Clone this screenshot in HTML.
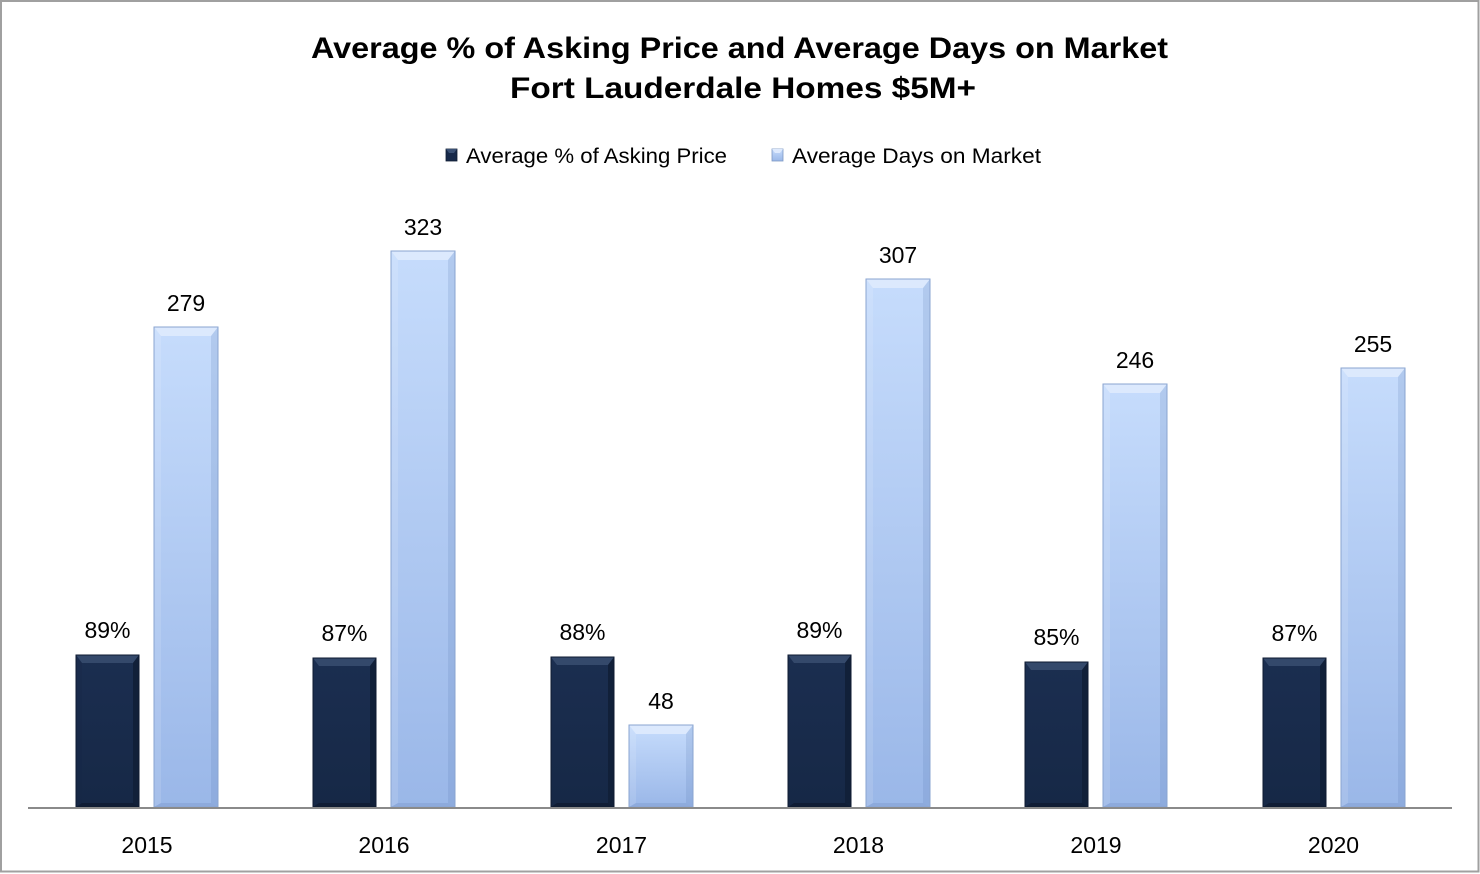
<!DOCTYPE html>
<html>
<head>
<meta charset="utf-8">
<style>
  html, body { margin: 0; padding: 0; background: #ffffff; }
  svg { display: block; }
  text { font-family: "Liberation Sans", Arial, sans-serif; fill: #000; }
</style>
</head>
<body>
<svg width="1480" height="874" viewBox="0 0 1480 874" xmlns="http://www.w3.org/2000/svg">
  <defs>
    <linearGradient id="lg" x1="0" y1="0" x2="0" y2="1">
      <stop offset="0" stop-color="#c6dcfc"/>
      <stop offset="1" stop-color="#9ab7e8"/>
    </linearGradient>
    <linearGradient id="dg" x1="0" y1="0" x2="0" y2="1">
      <stop offset="0" stop-color="#1b2e50"/>
      <stop offset="1" stop-color="#162846"/>
    </linearGradient>
  </defs>

  <rect x="0" y="0" width="1480" height="874" fill="#fff"/>
  <rect x="1" y="1" width="1477.5" height="870.5" fill="none" stroke="#a0a0a0" stroke-width="2"/>

  <!-- Title -->
  <text x="311" y="58" font-size="29.5" font-weight="bold" textLength="857" lengthAdjust="spacingAndGlyphs">Average % of Asking Price and Average Days on Market</text>
  <text x="510" y="98" font-size="29.5" font-weight="bold" textLength="466" lengthAdjust="spacingAndGlyphs">Fort Lauderdale Homes $5M+</text>

  <!-- Legend -->
  <g>
    <rect x="446" y="149" width="11" height="12" fill="#17294a" stroke="#0f1c33" stroke-width="0.8"/>
    <polygon points="446,149 457,149 454,153 449,153" fill="#3a5074"/>
    <text x="466" y="163" font-size="21" textLength="261" lengthAdjust="spacingAndGlyphs">Average % of Asking Price</text>
    <rect x="772" y="149" width="11" height="12" fill="url(#lg)" stroke="#7e98c4" stroke-width="0.8"/>
    <polygon points="772,149 783,149 780,153 775,153" fill="#dde9fd"/>
    <text x="792" y="163" font-size="21" textLength="249" lengthAdjust="spacingAndGlyphs">Average Days on Market</text>
  </g>

  <!-- Bars -->
  <g id="bars">
    <!-- 2015 -->
    <rect x="76" y="655" width="63" height="152" fill="url(#dg)"/>
    <polygon points="76,655 139,655 133,663 82,663" fill="#34496b"/>
    <polygon points="76,655 82,663 82,803 76,807" fill="#15264438"/>
    <polygon points="139,655 133,663 133,803 139,807" fill="#112039"/>
    <polygon points="76,807 82,803 133,803 139,807" fill="#101d35"/>
    <rect x="76" y="655" width="63" height="152" fill="none" stroke="#0e1a30" stroke-width="1"/>

    <rect x="154" y="327" width="64" height="480" fill="url(#lg)"/>
    <polygon points="154,327 218,327 211,336 161,336" fill="#dce9fd"/>
    <polygon points="154,327 161,336 161,803 154,807" fill="#ffffff" fill-opacity="0.12"/>
    <polygon points="218,327 211,336 211,803 218,807" fill="#5a7ab0" fill-opacity="0.18"/>
    <polygon points="154,807 161,803 211,803 218,807" fill="#5a7ab0" fill-opacity="0.2"/>
    <rect x="154" y="327" width="64" height="480" fill="none" stroke="#8aa4d0" stroke-width="1"/>

    <!-- 2016 -->
    <rect x="313" y="658" width="63" height="149" fill="url(#dg)"/>
    <polygon points="313,658 376,658 370,666 319,666" fill="#34496b"/>
    <polygon points="376,658 370,666 370,803 376,807" fill="#112039"/>
    <polygon points="313,807 319,803 370,803 376,807" fill="#101d35"/>
    <rect x="313" y="658" width="63" height="149" fill="none" stroke="#0e1a30" stroke-width="1"/>

    <rect x="391" y="251" width="64" height="556" fill="url(#lg)"/>
    <polygon points="391,251 455,251 448,260 398,260" fill="#dce9fd"/>
    <polygon points="391,251 398,260 398,803 391,807" fill="#ffffff" fill-opacity="0.12"/>
    <polygon points="455,251 448,260 448,803 455,807" fill="#5a7ab0" fill-opacity="0.18"/>
    <polygon points="391,807 398,803 448,803 455,807" fill="#5a7ab0" fill-opacity="0.2"/>
    <rect x="391" y="251" width="64" height="556" fill="none" stroke="#8aa4d0" stroke-width="1"/>

    <!-- 2017 -->
    <rect x="551" y="657" width="63" height="150" fill="url(#dg)"/>
    <polygon points="551,657 614,657 608,665 557,665" fill="#34496b"/>
    <polygon points="614,657 608,665 608,803 614,807" fill="#112039"/>
    <polygon points="551,807 557,803 608,803 614,807" fill="#101d35"/>
    <rect x="551" y="657" width="63" height="150" fill="none" stroke="#0e1a30" stroke-width="1"/>

    <rect x="629" y="725" width="64" height="82" fill="url(#lg)"/>
    <polygon points="629,725 693,725 686,734 636,734" fill="#dce9fd"/>
    <polygon points="629,725 636,734 636,803 629,807" fill="#ffffff" fill-opacity="0.12"/>
    <polygon points="693,725 686,734 686,803 693,807" fill="#5a7ab0" fill-opacity="0.18"/>
    <polygon points="629,807 636,803 686,803 693,807" fill="#5a7ab0" fill-opacity="0.2"/>
    <rect x="629" y="725" width="64" height="82" fill="none" stroke="#8aa4d0" stroke-width="1"/>

    <!-- 2018 -->
    <rect x="788" y="655" width="63" height="152" fill="url(#dg)"/>
    <polygon points="788,655 851,655 845,663 794,663" fill="#34496b"/>
    <polygon points="851,655 845,663 845,803 851,807" fill="#112039"/>
    <polygon points="788,807 794,803 845,803 851,807" fill="#101d35"/>
    <rect x="788" y="655" width="63" height="152" fill="none" stroke="#0e1a30" stroke-width="1"/>

    <rect x="866" y="279" width="64" height="528" fill="url(#lg)"/>
    <polygon points="866,279 930,279 923,288 873,288" fill="#dce9fd"/>
    <polygon points="866,279 873,288 873,803 866,807" fill="#ffffff" fill-opacity="0.12"/>
    <polygon points="930,279 923,288 923,803 930,807" fill="#5a7ab0" fill-opacity="0.18"/>
    <polygon points="866,807 873,803 923,803 930,807" fill="#5a7ab0" fill-opacity="0.2"/>
    <rect x="866" y="279" width="64" height="528" fill="none" stroke="#8aa4d0" stroke-width="1"/>

    <!-- 2019 -->
    <rect x="1025" y="662" width="63" height="145" fill="url(#dg)"/>
    <polygon points="1025,662 1088,662 1082,670 1031,670" fill="#34496b"/>
    <polygon points="1088,662 1082,670 1082,803 1088,807" fill="#112039"/>
    <polygon points="1025,807 1031,803 1082,803 1088,807" fill="#101d35"/>
    <rect x="1025" y="662" width="63" height="145" fill="none" stroke="#0e1a30" stroke-width="1"/>

    <rect x="1103" y="384" width="64" height="423" fill="url(#lg)"/>
    <polygon points="1103,384 1167,384 1160,393 1110,393" fill="#dce9fd"/>
    <polygon points="1103,384 1110,393 1110,803 1103,807" fill="#ffffff" fill-opacity="0.12"/>
    <polygon points="1167,384 1160,393 1160,803 1167,807" fill="#5a7ab0" fill-opacity="0.18"/>
    <polygon points="1103,807 1110,803 1160,803 1167,807" fill="#5a7ab0" fill-opacity="0.2"/>
    <rect x="1103" y="384" width="64" height="423" fill="none" stroke="#8aa4d0" stroke-width="1"/>

    <!-- 2020 -->
    <rect x="1263" y="658" width="63" height="149" fill="url(#dg)"/>
    <polygon points="1263,658 1326,658 1320,666 1269,666" fill="#34496b"/>
    <polygon points="1326,658 1320,666 1320,803 1326,807" fill="#112039"/>
    <polygon points="1263,807 1269,803 1320,803 1326,807" fill="#101d35"/>
    <rect x="1263" y="658" width="63" height="149" fill="none" stroke="#0e1a30" stroke-width="1"/>

    <rect x="1341" y="368" width="64" height="439" fill="url(#lg)"/>
    <polygon points="1341,368 1405,368 1398,377 1348,377" fill="#dce9fd"/>
    <polygon points="1341,368 1348,377 1348,803 1341,807" fill="#ffffff" fill-opacity="0.12"/>
    <polygon points="1405,368 1398,377 1398,803 1405,807" fill="#5a7ab0" fill-opacity="0.18"/>
    <polygon points="1341,807 1348,803 1398,803 1405,807" fill="#5a7ab0" fill-opacity="0.2"/>
    <rect x="1341" y="368" width="64" height="439" fill="none" stroke="#8aa4d0" stroke-width="1"/>
  </g>

  <!-- Axis -->
  <line x1="28" y1="808" x2="1452" y2="808" stroke="#8a8a8a" stroke-width="2"/>

  <!-- Data labels -->
  <g font-size="23" text-anchor="middle">
    <text x="107.5" y="638">89%</text>
    <text x="186" y="311">279</text>
    <text x="344.5" y="641">87%</text>
    <text x="423" y="235">323</text>
    <text x="582.5" y="640">88%</text>
    <text x="661" y="709">48</text>
    <text x="819.5" y="638">89%</text>
    <text x="898" y="263">307</text>
    <text x="1056.5" y="645">85%</text>
    <text x="1135" y="368">246</text>
    <text x="1294.5" y="641">87%</text>
    <text x="1373" y="352">255</text>
  </g>

  <!-- Category labels -->
  <g font-size="23" text-anchor="middle">
    <text x="147" y="853">2015</text>
    <text x="384" y="853">2016</text>
    <text x="621.5" y="853">2017</text>
    <text x="858.5" y="853">2018</text>
    <text x="1096" y="853">2019</text>
    <text x="1333.5" y="853">2020</text>
  </g>
</svg>
</body>
</html>
